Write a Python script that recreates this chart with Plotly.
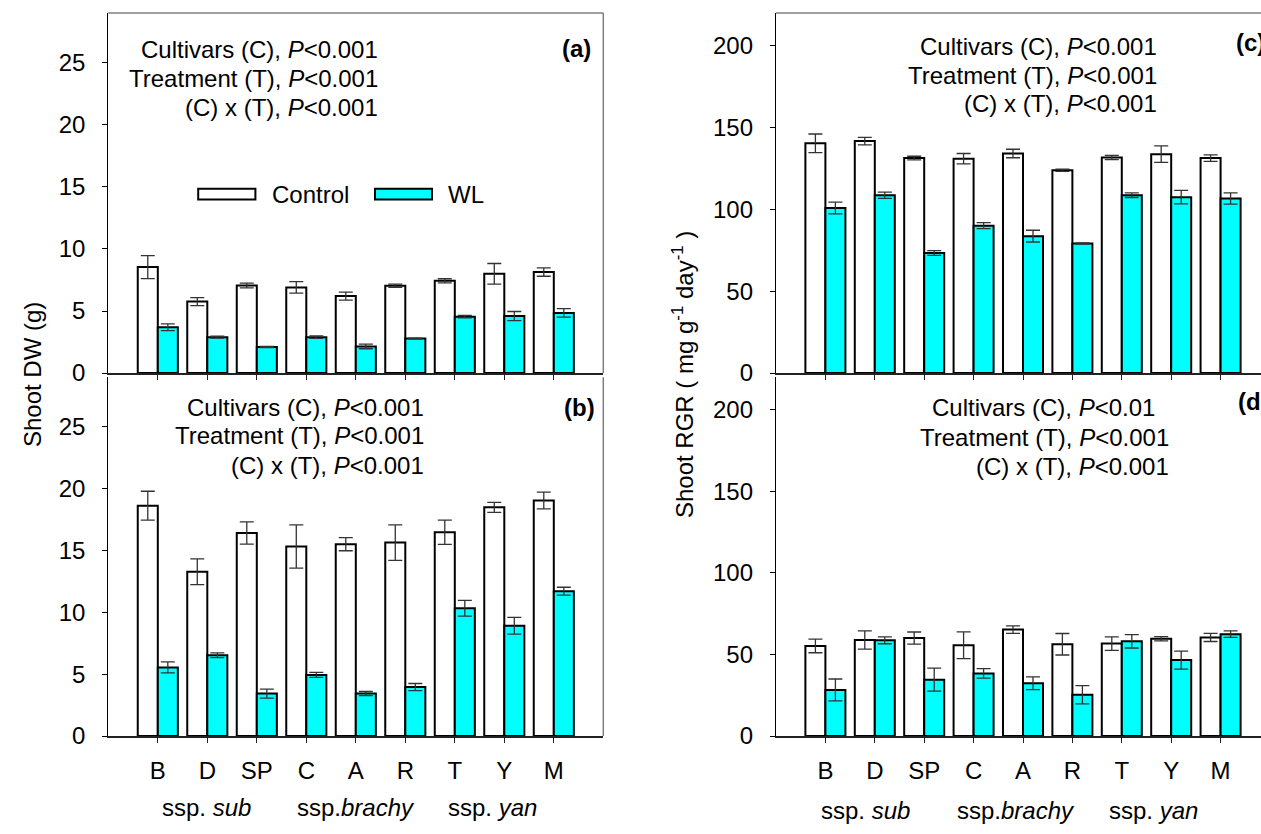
import plotly.graph_objects as go

W, H = 1261, 834
FONT = "Liberation Sans, Arial, sans-serif"

cultivars = ["B", "D", "SP", "C", "A", "R", "T", "Y", "M"]

# Panel (a) Shoot DW, first harvest
a_ctrl = [8.54, 5.76, 7.06, 6.90, 6.20, 7.03, 7.43, 8.00, 8.14]
a_ctrl_err = [0.93, 0.32, 0.19, 0.46, 0.32, 0.13, 0.17, 0.83, 0.34]
a_wl = [3.69, 2.89, 2.10, 2.89, 2.15, 2.79, 4.54, 4.59, 4.85]
a_wl_err = [0.27, 0.08, 0.04, 0.10, 0.19, 0.03, 0.10, 0.37, 0.34]

# Panel (b) Shoot DW, second harvest
b_ctrl = [18.62, 13.28, 16.41, 15.33, 15.51, 15.64, 16.47, 18.49, 19.04]
b_ctrl_err = [1.17, 1.04, 0.90, 1.75, 0.53, 1.43, 0.98, 0.40, 0.68]
b_wl = [5.55, 6.53, 3.43, 4.94, 3.43, 3.96, 10.33, 8.92, 11.71]
b_wl_err = [0.44, 0.19, 0.36, 0.20, 0.17, 0.29, 0.64, 0.68, 0.32]

# Panel (c) Shoot RGR
c_ctrl = [140.4, 141.8, 131.4, 131.0, 134.2, 124.0, 131.8, 133.8, 131.4]
c_ctrl_err = [5.7, 2.3, 1.1, 3.2, 2.6, 0.7, 1.3, 5.0, 2.0]
c_wl = [100.9, 108.7, 73.4, 90.1, 83.7, 79.2, 108.7, 107.5, 106.7]
c_wl_err = [3.6, 1.9, 1.5, 1.8, 3.6, 0.4, 1.4, 4.1, 3.4]

# Panel (d) Shoot RGR
d_ctrl = [55.3, 58.9, 60.1, 55.7, 65.3, 56.3, 56.7, 59.7, 60.5]
d_ctrl_err = [4.2, 5.6, 3.7, 8.2, 2.3, 6.6, 4.1, 1.3, 2.5]
d_wl = [28.3, 58.7, 34.6, 38.4, 32.4, 25.3, 58.1, 46.6, 62.5]
d_wl_err = [6.7, 2.1, 7.0, 2.9, 3.9, 5.6, 4.1, 5.5, 2.0]

dw_ticks = [0, 5, 10, 15, 20, 25]
rgr_ticks = [0, 50, 100, 150, 200]

stats_ab = ["Cultivars (C), <i>P</i><0.001", "Treatment (T), <i>P</i><0.001", "(C) x (T), <i>P</i><0.001"]
stats_c = ["Cultivars (C), <i>P</i><0.001", "Treatment (T), <i>P</i><0.001", "(C) x (T), <i>P</i><0.001"]
stats_d = ["Cultivars (C), <i>P</i><0.01", "Treatment (T), <i>P</i><0.001", "(C) x (T), <i>P</i><0.001"]
subspecies = ["ssp. <i>sub</i>", "ssp.<i>brachy</i>", "ssp. <i>yan</i>"]

CTRL_COLOR = "white"
WL_COLOR = "#00FFFF"


def px(x):
    return x / W


def py(y):
    return 1 - y / H


fig = go.Figure()

panels = [
    ("x", "y", a_ctrl, a_ctrl_err, a_wl, a_wl_err),
    ("x2", "y2", b_ctrl, b_ctrl_err, b_wl, b_wl_err),
    ("x3", "y3", c_ctrl, c_ctrl_err, c_wl, c_wl_err),
    ("x4", "y4", d_ctrl, d_ctrl_err, d_wl, d_wl_err),
]
for xa, ya, ctrl, ctrl_e, wl, wl_e in panels:
    for vals, errs, col, name in [(ctrl, ctrl_e, CTRL_COLOR, "Control"), (wl, wl_e, WL_COLOR, "WL")]:
        fig.add_trace(go.Bar(
            x=cultivars, y=vals, name=name, xaxis=xa, yaxis=ya, showlegend=False,
            marker=dict(color=col, line=dict(color="black", width=2)),
            error_y=dict(type="data", array=errs, visible=True, color="#333333", thickness=1.3, width=7),
        ))

left_dom = [px(108.3), px(603.3)]
right_dom = [px(776), 1.0]
top_dom = [py(379), py(13.3)]
bot_dom = [py(747.7), py(383.3)]

xcommon = dict(type="category", showgrid=False, zeroline=False, showline=True, linecolor="#222222", linewidth=2,
               ticks="outside", ticklen=5, tickcolor="#222222", tickfont=dict(family=FONT, size=24, color="black"),
               ticklabelstandoff=7)
ycommon = dict(showgrid=False, zeroline=False, showline=True, linecolor="black", linewidth=1.3,
               ticks="outside", ticklen=5, tickcolor="black", tickfont=dict(family=FONT, size=24, color="black"),
               ticklabelstandoff=12)

fig.update_layout(
    width=W, height=H, margin=dict(l=0, r=0, t=0, b=0),
    paper_bgcolor="white", plot_bgcolor="white",
    barmode="group", bargap=0.19, bargroupgap=0,
    font=dict(family=FONT, size=24, color="black"),
    xaxis=dict(domain=left_dom, anchor="y", range=[-1, 9], showticklabels=False, **xcommon),
    yaxis=dict(domain=top_dom, anchor="x", range=[0, 29], tickvals=dw_ticks, **ycommon),
    xaxis2=dict(domain=left_dom, anchor="y2", range=[-1, 9], **xcommon),
    yaxis2=dict(domain=bot_dom, anchor="x2", range=[0, 29], tickvals=dw_ticks, **ycommon),
    xaxis3=dict(domain=right_dom, anchor="y3", range=[-1, 8.818], showticklabels=False, **xcommon),
    yaxis3=dict(domain=top_dom, anchor="x3", range=[0, 220], tickvals=rgr_ticks, **ycommon),
    xaxis4=dict(domain=right_dom, anchor="y4", range=[-1, 8.818], **xcommon),
    yaxis4=dict(domain=bot_dom, anchor="x4", range=[0, 220], tickvals=rgr_ticks, **ycommon),
)

frame = dict(color="#7f7f7f", width=1.5)
shapes = [
    dict(type="line", xref="x domain", yref="y domain", x0=0, x1=1, y0=1, y1=1, line=frame),
    dict(type="line", xref="x domain", yref="y domain", x0=1, x1=1, y0=0, y1=1, line=frame),
    dict(type="line", xref="x2 domain", yref="y2 domain", x0=1, x1=1, y0=0, y1=1, line=frame),
    dict(type="line", xref="x3 domain", yref="y3 domain", x0=0, x1=1, y0=1, y1=1, line=frame),
    # legend keys in panel (a)
    dict(type="rect", xref="paper", yref="paper", x0=px(198.2), x1=px(255.4), y0=py(202.7), y1=py(191.7),
         fillcolor=CTRL_COLOR, line=dict(color="black", width=2)),
    dict(type="rect", xref="paper", yref="paper", x0=px(375), x1=px(432), y0=py(202.7), y1=py(191.7),
         fillcolor=WL_COLOR, line=dict(color="black", width=2)),
]
fig.update_layout(shapes=shapes)

ann = []


def txt(x, y, text, xanchor="right", size=24, bold=False, angle=0):
    ann.append(dict(x=px(x), y=py(y), xref="paper", yref="paper", text=("<b>%s</b>" % text) if bold else text,
                    showarrow=False, xanchor=xanchor, yanchor="middle", textangle=angle,
                    font=dict(family=FONT, size=size, color="black")))


for t, y in zip(stats_ab, [50.5, 80, 109.2]):
    txt(379.6, y, t)
for t, y in zip(stats_ab, [414, 442.5, 473.3]):
    txt(426, y, t)
for t, y in zip(stats_c, [47.5, 76.3, 105.5]):
    txt(1159, y, t)
for t, y, x in zip(stats_d, [414.3, 444.2, 474.2], [1157, 1171, 1171]):
    txt(x, y, t)

txt(560, 49, "(a)", xanchor="left", bold=True)
txt(562, 414, "(b)", xanchor="left", bold=True)
txt(1234, 43.5, "(c)", xanchor="left", bold=True)
txt(1236, 407.5, "(d)", xanchor="left", bold=True)

txt(269.6, 197.5, "Control", xanchor="left")
txt(445.7, 197.5, "WL", xanchor="left")

for t, x in zip(subspecies, [206.4, 356.4, 492]):
    txt(x, 820, t, xanchor="center")
for t, x in zip(subspecies, [865.5, 1016, 1153]):
    txt(x, 823, t, xanchor="center")

txt(32, 381, "Shoot DW (g)", xanchor="center", angle=-90)
txt(683, 381, "Shoot RGR ( mg g<sup>-1</sup> day<sup>-1</sup> )", xanchor="center", angle=-90)

fig.update_layout(annotations=ann)

fig.write_html("out.html", config={"displayModeBar": False},
               post_script="document.body.style.margin='0px';document.body.style.overflow='hidden';")
